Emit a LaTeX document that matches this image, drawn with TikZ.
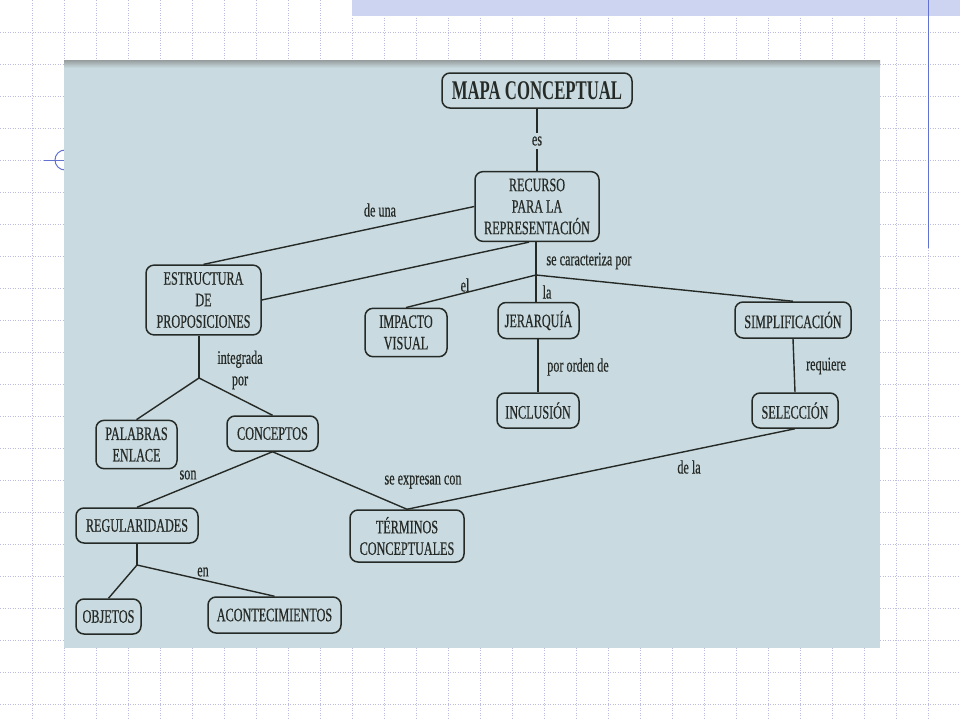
\documentclass[tikz,border=0pt]{standalone}
\usepackage{fontspec}
\newfontfamily\mapfont[FakeStretch=0.64,FakeBold=0.5]{Liberation Serif}
\newfontfamily\titlefont[FakeStretch=0.62]{Liberation Serif}
\definecolor{fondo}{HTML}{C9DBE1}
\definecolor{rejilla}{HTML}{BCBCE2}
\definecolor{azul}{HTML}{6272D2}
\definecolor{barra}{HTML}{CDD4F1}
\definecolor{tinta}{HTML}{262A26}
\tikzset{
  concepto/.style={draw=tinta, line width=1.5pt, rounded corners=8pt, align=center,
    inner xsep=6pt, inner ysep=7pt, text=tinta,
    font=\mapfont\fontsize{19}{21.5}\selectfont},
  enlace/.style={text=tinta, inner sep=1pt, align=center,
    font=\mapfont\fontsize{19}{21.5}\selectfont},
  linea/.style={draw=tinta, line width=1.4pt},
  rejillalinea/.style={draw=rejilla, line width=0.8pt, dash pattern=on 1pt off 1.5pt},
}

\begin{document}
\begin{tikzpicture}[x=1pt,y=-1pt]
    \useasboundingbox[fill=white] (0,0) rectangle (960,720);
    % slide background
    \foreach \k in {1,...,29} {
        \draw[rejillalinea] (32*\k,0) -- (32*\k,720);
    }
    \foreach \k in {1,...,22} {
        \draw[rejillalinea] (0,32*\k) -- (960,32*\k);
    }
    \fill[barra] (352,0) rectangle (960,16);
    \draw[azul, line width=1pt] (928,0) -- (928,248);
    \draw[azul, line width=1pt] (44,160) -- (64,160);
    \draw[azul, line width=1pt] (65,160) circle (10);

    % scanned map
    \fill[fondo] (64,60) rectangle (880,648);
    \shade[top color=gray!70!fondo, bottom color=fondo] (64,60) rectangle (880,68);

    % concepts
    \node[concepto, minimum width=190pt, minimum height=35pt,
          font=\titlefont\bfseries\fontsize{27}{30}\selectfont, inner ysep=3pt] (mapa) at (537,90.5) {MAPA CONCEPTUAL};
    \node[concepto, minimum width=124pt] (rec) at (537,206.5) {RECURSO\\PARA LA\\REPRESENTACIÓN};
    \node[concepto, minimum width=115pt] (est) at (203.5,300) {ESTRUCTURA\\DE\\PROPOSICIONES};
    \node[concepto, minimum width=82pt] (imp) at (406,332.5) {IMPACTO\\VISUAL};
    \node[concepto, minimum width=81pt, minimum height=36pt] (jer) at (538.5,320.5) {JERARQUÍA};
    \node[concepto, minimum width=116pt, minimum height=36pt] (sim) at (793,320) {SIMPLIFICACIÓN};
    \node[concepto, minimum width=82pt, minimum height=35pt] (inc) at (538,410.5) {INCLUSIÓN};
    \node[concepto, minimum width=86pt, minimum height=35pt] (sel) at (795,410.5) {SELECCIÓN};
    \node[concepto, minimum width=81pt] (pal) at (136.5,444.5) {PALABRAS\\ENLACE};
    \node[concepto, minimum width=91pt, minimum height=35pt] (con) at (272.5,433.5) {CONCEPTOS};
    \node[concepto, minimum width=122pt, minimum height=35pt] (reg) at (137,525.5) {REGULARIDADES};
    \node[concepto, minimum width=114pt] (ter) at (407,536) {TÉRMINOS\\CONCEPTUALES};
    \node[concepto, minimum width=65pt, minimum height=35pt] (obj) at (108.5,616.5) {OBJETOS};
    \node[concepto, minimum width=133pt, minimum height=36pt] (aco) at (274.5,615) {ACONTECIMIENTOS};

    % branch points
    \coordinate (car) at (536,275);
    \coordinate (int) at (199,378);
    \coordinate (ren) at (137,565);

    % connectors
    \draw[linea] (mapa.south) -- (rec.north);
    \draw[linea] (rec.west) -- (est.north);
    \draw[linea] ([xshift=-8pt]rec.south) -- (est.east);
    \draw[linea] (rec.south -| car) -- (car) -- (car |- jer.north);
    \draw[linea] (car) -- (imp.north);
    \draw[linea] (car) -- (sim.north);
    \draw[linea] (jer.south -| inc.north) -- (inc.north);
    \draw[linea] (sim.south) -- (sel.north);
    \draw[linea] (est.south -| int) -- (int);
    \draw[linea] (int) -- (pal.north);
    \draw[linea] (int) -- (con.north);
    \draw[linea] (con.south) -- (reg.north);
    \draw[linea] (con.south) -- (ter.north);
    \draw[linea] (ter.north) -- (sel.south);
    \draw[linea] (reg.south) -- (ren);
    \draw[linea] (ren) -- (obj.north);
    \draw[linea] (ren) -- (aco.north);

    % linking words
    \node[enlace, fill=fondo, inner ysep=3pt] (es) at (537,141) {es};
    \node[enlace] (deuna) at (380,210) {de una};
    \node[enlace] (secar) at (589,261) {se caracteriza por};
    \node[enlace] (el) at (465,285) {el};
    \node[enlace] (la) at (547,292) {la};
    \node[enlace] (integ) at (240,370) {integrada\\por};
    \node[enlace] (orden) at (578,367) {por orden de};
    \node[enlace] (req) at (826,366) {requiere};
    \node[enlace] (son) at (188,475) {son};
    \node[enlace] (expr) at (423,482) {se expresan con};
    \node[enlace] (dela) at (689,467) {de la};
    \node[enlace] (en) at (203,572) {en};
\end{tikzpicture}
\end{document}
